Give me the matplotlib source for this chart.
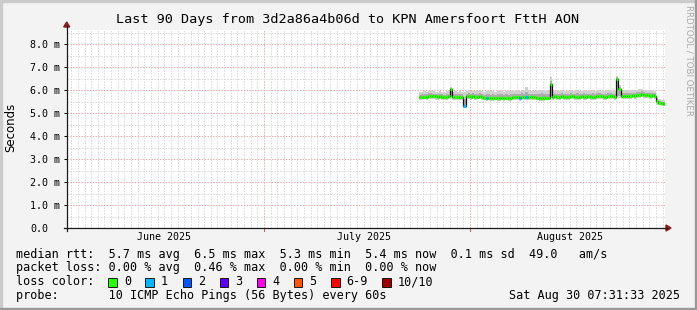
import numpy as np
import matplotlib
matplotlib.use("Agg")
import matplotlib.pyplot as plt
import matplotlib.dates as mdates
from matplotlib.patches import Rectangle, Polygon
from matplotlib.lines import Line2D
from datetime import datetime, timedelta

# ---------------- data ----------------
title = "Last 90 Days from 3d2a86a4b06d to KPN Amersfoort FttH AON"
ylabel = "Seconds"
window_end = datetime(2025, 8, 30, 7, 31, 33)
window_days = 90
data_start = datetime(2025, 7, 24, 8, 0)
step_hours = 8

# median RTT (ms), one value per 8-hour step
median_ms = [
    5.68, 5.69, 5.68, 5.70,
    5.73, 5.74, 5.72, 5.73, 5.71, 5.72,
    5.70, 5.69, 5.70, 5.72,
    6.05,
    5.71, 5.70, 5.69, 5.68, 5.70,
    5.30,
    5.72, 5.73, 5.71, 5.72, 5.70, 5.71, 5.72, 5.70,
    5.67, 5.66, 5.66, 5.65, 5.66, 5.66, 5.65, 5.66, 5.67, 5.66, 5.66, 5.65, 5.66, 5.68, 5.69, 5.68, 5.66,
    5.69, 5.70, 5.68, 5.69, 5.70, 5.69, 5.68,
    5.66, 5.66, 5.65, 5.66, 5.66, 5.67,
    6.25,
    5.71, 5.72, 5.70, 5.71, 5.72, 5.71, 5.70, 5.71, 5.72, 5.73, 5.71, 5.70, 5.71, 5.72, 5.71,
    5.70, 5.72, 5.71, 5.70, 5.71, 5.72, 5.73, 5.72, 5.71, 5.70, 5.72, 5.73, 5.72, 5.71,
    6.50,
    6.05,
    5.74, 5.75, 5.74, 5.76, 5.75, 5.77, 5.76, 5.78, 5.80, 5.82, 5.79, 5.77, 5.78, 5.76, 5.77, 5.75,
    5.52,
    5.44, 5.42, 5.40,
]
# smoke: slowest ping (ms)
smoke_hi = [
    5.90, 5.93, 5.95, 5.92, 5.96, 5.97, 5.94, 5.93, 5.92, 5.95, 5.93, 5.91, 5.94, 5.96,
    6.14,
    5.93, 5.95, 5.92, 5.94, 5.93,
    5.90,
    5.96, 5.98, 5.95, 5.97, 5.94, 5.96, 5.98, 5.95,
    5.93, 5.95, 5.97, 5.94, 5.96, 5.92, 5.95, 5.98, 5.96, 5.93, 5.95, 5.94, 5.97, 5.99, 5.96, 5.95, 5.97,
    6.02, 5.98, 6.12, 5.99, 5.96, 5.98, 5.95,
    5.97, 5.99, 6.02, 5.98, 5.96, 6.00,
    6.55,
    5.98, 5.96, 5.95, 5.97, 5.99, 5.96, 5.94, 5.97, 5.98, 5.95, 5.96, 5.99, 5.97, 5.95, 5.98,
    5.96, 5.94, 5.97, 5.99, 5.96, 5.98, 6.00, 5.97, 5.95, 5.96, 5.98, 6.02, 5.97, 5.96,
    6.62,
    6.22,
    5.99, 6.01, 5.98, 6.00, 5.98, 6.02, 6.00, 6.01, 6.04, 6.05, 6.01, 6.00, 6.02, 5.99, 6.01, 5.97,
    5.68,
    5.60, 5.58, 5.56,
]
# smoke: fastest ping (ms)
smoke_lo = [
    5.58, 5.57, 5.59, 5.58, 5.60, 5.61, 5.59, 5.58, 5.57, 5.59, 5.58, 5.57, 5.58, 5.59,
    5.62,
    5.58, 5.57, 5.58, 5.56, 5.57,
    5.26,
    5.59, 5.60, 5.58, 5.59, 5.58, 5.59, 5.60, 5.58,
    5.55, 5.54, 5.55, 5.53, 5.54, 5.55, 5.53, 5.54, 5.55, 5.54, 5.55, 5.53, 5.54, 5.56, 5.57, 5.56, 5.54,
    5.57, 5.58, 5.56, 5.57, 5.58, 5.57, 5.56,
    5.55, 5.54, 5.53, 5.54, 5.55, 5.55,
    5.66,
    5.58, 5.59, 5.57, 5.58, 5.59, 5.58, 5.57, 5.58, 5.59, 5.60, 5.58, 5.57, 5.58, 5.59, 5.58,
    5.57, 5.59, 5.58, 5.57, 5.58, 5.59, 5.60, 5.59, 5.58, 5.57, 5.59, 5.60, 5.59, 5.58,
    5.70,
    5.66,
    5.61, 5.62, 5.61, 5.63, 5.62, 5.64, 5.63, 5.65, 5.66, 5.68, 5.66, 5.64, 5.65, 5.63, 5.64, 5.62,
    5.36,
    5.33, 5.31, 5.30,
]
# smoke: inner band (ms)
smoke_hi2 = [
    5.80, 5.82, 5.83, 5.81, 5.85, 5.86, 5.83, 5.82, 5.81, 5.83, 5.82, 5.80, 5.82, 5.84,
    6.10,
    5.82, 5.83, 5.81, 5.82, 5.81,
    5.60,
    5.84, 5.86, 5.83, 5.85, 5.82, 5.84, 5.86, 5.83,
    5.80, 5.81, 5.82, 5.80, 5.81, 5.79, 5.81, 5.83, 5.82, 5.80, 5.81, 5.80, 5.82, 5.84, 5.83, 5.82, 5.81,
    5.86, 5.84, 5.90, 5.84, 5.83, 5.84, 5.82,
    5.81, 5.83, 5.85, 5.82, 5.81, 5.84,
    6.40,
    5.84, 5.83, 5.82, 5.84, 5.85, 5.83, 5.82, 5.84, 5.85, 5.83, 5.83, 5.85, 5.84, 5.82, 5.85,
    5.83, 5.82, 5.84, 5.85, 5.83, 5.85, 5.86, 5.84, 5.83, 5.82, 5.85, 5.87, 5.84, 5.83,
    6.56,
    6.14,
    5.86, 5.88, 5.86, 5.88, 5.87, 5.89, 5.88, 5.90, 5.92, 5.94, 5.90, 5.88, 5.89, 5.87, 5.88, 5.85,
    5.60,
    5.52, 5.50, 5.48,
]
smoke_lo2 = [
    5.63, 5.64, 5.63, 5.65, 5.67, 5.68, 5.66, 5.67, 5.65, 5.66, 5.64, 5.63, 5.64, 5.66,
    5.68,
    5.65, 5.64, 5.64, 5.62, 5.64,
    5.28,
    5.66, 5.67, 5.65, 5.66, 5.64, 5.65, 5.66, 5.64,
    5.61, 5.60, 5.61, 5.59, 5.60, 5.61, 5.59, 5.60, 5.61, 5.60, 5.61, 5.59, 5.60, 5.62, 5.63, 5.62, 5.60,
    5.63, 5.64, 5.62, 5.63, 5.64, 5.63, 5.62,
    5.61, 5.60, 5.59, 5.60, 5.61, 5.61,
    5.72,
    5.65, 5.66, 5.64, 5.65, 5.66, 5.65, 5.64, 5.65, 5.66, 5.67, 5.65, 5.64, 5.65, 5.66, 5.65,
    5.64, 5.66, 5.65, 5.64, 5.65, 5.66, 5.67, 5.66, 5.65, 5.64, 5.66, 5.67, 5.66, 5.65,
    5.76,
    5.72,
    5.68, 5.69, 5.68, 5.70, 5.69, 5.71, 5.70, 5.72, 5.73, 5.75, 5.73, 5.71, 5.72, 5.70, 5.71, 5.69,
    5.42,
    5.38, 5.36, 5.35,
]
# packets lost (of 10) per step
loss_count = [0] * 111
for _i in (20, 30, 45, 48):
    loss_count[_i] = 1

loss_labels = ["0", "1", "2", "3", "4", "5", "6-9", "10/10"]
loss_colors = ["#26ff00", "#00b8ff", "#0059ff", "#5e00ff", "#ff00ea", "#ff5500", "#ff0000", "#a10000"]

rtt_stats = [("5.7", "avg"), ("6.5", "max"), ("5.3", "min"), ("5.4", "now"), ("0.1", "sd")]
rtt_am = "49.0"
loss_stats = [("0.00", "avg"), ("0.46", "max"), ("0.00", "min"), ("0.00", "now")]
probe_text = "10 ICMP Echo Pings (56 Bytes) every 60s"

y_ticks = [0, 1, 2, 3, 4, 5, 6, 7, 8]

# ---------------- layout ----------------
W, H, DPI = 697, 310, 100
MONO = "DejaVu Sans Mono"
FS = 8.5
AFS = 7.2
CW = FS * DPI / 72 * 0.602  # monospace char width px

def fx(x):
    return x / W

def fy(y):
    return 1 - y / H

fig = plt.figure(figsize=(W / DPI, H / DPI), dpi=DPI, facecolor="#f3f3f3")

AX_L, AX_R, AX_B, AX_T = 66.7, 664.8, 228.0, 30.2
ax = fig.add_axes([fx(AX_L), fy(AX_B), (AX_R - AX_L) / W, (AX_B - AX_T) / H])
ax.set_facecolor("white")
for s in ax.spines.values():
    s.set_visible(False)

t0 = window_end - timedelta(days=window_days)
ax.set_xlim(mdates.date2num(t0), mdates.date2num(window_end))
ax.set_ylim(0, 8.6)

MINOR_C = "#d8d8d8"
MAJOR_C = "#eeaaaa"
# grid
day = datetime(t0.year, t0.month, t0.day) + timedelta(days=1)
while day < window_end:
    major = day.day == 1
    ax.axvline(mdates.date2num(day), color=MAJOR_C if major else MINOR_C,
               lw=0.72, dashes=(1.4, 1.4), zorder=1, snap=True)
    day += timedelta(days=1)
for v in np.arange(0.5, 8.6, 0.5):
    major = abs(v - round(v)) < 1e-9
    ax.axhline(v, color=MAJOR_C if major else MINOR_C, lw=0.72,
               dashes=(1.4, 1.4), zorder=1, snap=True)

# data
n = len(median_ms)
edges = [data_start + timedelta(hours=step_hours * i) for i in range(n + 1)]
ex = mdates.date2num(edges)
ax.stairs(smoke_hi, ex, baseline=smoke_lo, fill=True, color="#d0d0d0", lw=0, zorder=2)
ax.stairs(smoke_hi2, ex, baseline=smoke_lo2, fill=True, color="#acacac", lw=0, zorder=3)
ax.stairs(median_ms, ex, baseline=None, color="#111111", lw=0.9, zorder=4)
seg_colors = [loss_colors[min(c, 6) if c < 10 else 7] for c in loss_count]
ax.hlines(median_ms, ex[:-1], ex[1:], colors=seg_colors, lw=2.3, zorder=5,
          capstyle="butt")

# ticks
ax.set_yticks(y_ticks)
ax.set_yticklabels([("%.1f" % v) if v == 0 else ("%.1f m" % v) for v in y_ticks],
                   family=MONO, fontsize=AFS, ha="left")
tick_len_px = 3
ax.tick_params(axis="y", length=tick_len_px * 72 / DPI, width=0.75, color="black",
               pad=(AX_L - 30 - tick_len_px) * 72 / DPI)

mids = []
mlabels = []
m = datetime(t0.year, t0.month, 16)
while m < window_end:
    if m > t0:
        mids.append(mdates.date2num(m))
        mlabels.append(m.strftime("%B %Y"))
    m = datetime(m.year + (m.month // 12), m.month % 12 + 1, 16)
ax.set_xticks(mids)
ax.set_xticklabels(mlabels, family=MONO, fontsize=AFS)
ax.tick_params(axis="x", length=0, pad=4.5 * 72 / DPI)

# axes with arrows
axis_col = "#1a1a1a"
arrow_col = "#8b1a1a"
fig.add_artist(Line2D([fx(AX_L - 3), fx(667)], [fy(AX_B), fy(AX_B)], color=axis_col, lw=0.9))
fig.add_artist(Line2D([fx(AX_L), fx(AX_L)], [fy(AX_B + 3), fy(26)], color=axis_col, lw=0.9))
fig.add_artist(Polygon([[fx(671), fy(AX_B)], [fx(666), fy(AX_B - 3)], [fx(666), fy(AX_B + 3)]],
                       closed=True, color=arrow_col, transform=fig.transFigure))
fig.add_artist(Polygon([[fx(AX_L), fy(22)], [fx(AX_L - 3), fy(27)], [fx(AX_L + 3), fy(27)]],
                       closed=True, color=arrow_col, transform=fig.transFigure))
# month start ticks on x axis
for mm in (datetime(2025, 7, 1), datetime(2025, 8, 1)):
    ax.plot([mdates.date2num(mm)] * 2, [-0.12, 0.0], color="#c06060", lw=0.75,
            clip_on=False, zorder=6)

# texts
fig.text(fx(347.8), fy(20), title, family=MONO, fontsize=9.7, ha="center", va="center")
fig.text(fx(10.5), fy(127), ylabel, fontsize=8.5, rotation=90, ha="center", va="center")
fig.text(fx(689), fy(5), "RRDTOOL / TOBI OETIKER", fontsize=6.2, rotation=270,
         ha="center", va="top", color="#a8a8a8")

LX = 16
line1 = "median rtt:  " + "  ".join("%s ms %s" % s for s in rtt_stats) + "  %s   am/s" % rtt_am
line2 = "packet loss: " + "  ".join("%s %% %s" % s for s in loss_stats)
fig.text(fx(LX), fy(257.7), line1, family=MONO, fontsize=FS, va="baseline")
fig.text(fx(LX), fy(271.5), line2, family=MONO, fontsize=FS, va="baseline")
fig.text(fx(LX), fy(285.3), "loss color:", family=MONO, fontsize=FS, va="baseline")
xb = LX + 13 * CW
for lab, col in zip(loss_labels, loss_colors):
    fig.add_artist(Rectangle((fx(xb), fy(286.5)), 8.5 / W, 8.5 / H, facecolor=col,
                             edgecolor="black", lw=0.6, transform=fig.transFigure))
    fig.text(fx(xb + 15.6), fy(285.3), lab, family=MONO, fontsize=FS, va="baseline")
    xb += 15.6 + len(lab) * CW + 14.4
fig.text(fx(LX), fy(299.2), "probe:" + " " * 7 + probe_text, family=MONO, fontsize=FS,
         va="baseline")
fig.text(fx(680), fy(299.2), window_end.strftime("%a %b %d %H:%M:%S %Y"), family=MONO,
         fontsize=FS, va="baseline", ha="right")

# 3D frame
fig.add_artist(Rectangle((0, 1 - 2 / H), 1, 2 / H, color="#cbcbcb", transform=fig.transFigure))
fig.add_artist(Rectangle((0, 0), 2 / W, 1, color="#cbcbcb", transform=fig.transFigure))
fig.add_artist(Rectangle((0, 0), 1, 2 / H, color="#999999", transform=fig.transFigure))
fig.add_artist(Rectangle((1 - 2 / W, 0), 2 / W, 1, color="#999999", transform=fig.transFigure))

fig.savefig("out.png", dpi=DPI, facecolor=fig.get_facecolor())
